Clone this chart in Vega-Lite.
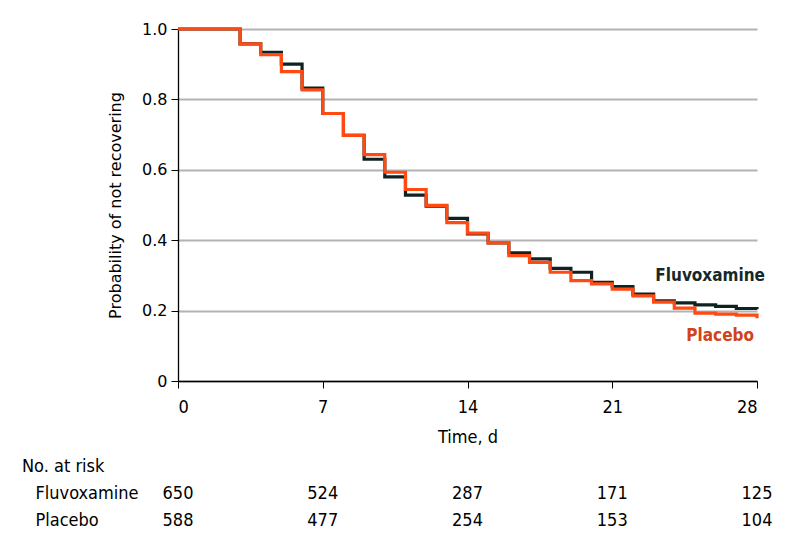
{
  "$schema": "https://vega.github.io/schema/vega-lite/v6.json",
  "padding": {"left": 22, "top": 21, "right": 5, "bottom": 5},
  "background": "white",
  "config": {
    "view": {"stroke": null},
    "font": "DejaVu Sans Condensed, Liberation Sans Narrow, DejaVu Sans, sans-serif",
    "axis": {"domainColor": "#000000", "tickColor": "#000000", "labelColor": "#000000", "titleColor": "#000000", "titleFontWeight": "normal"},
    "title": {"color": "#000000"}
  },
  "datasets": {
    "curves": [
      {"day": 0, "group": "Fluvoxamine", "p": 1.0},
      {"day": 3, "group": "Fluvoxamine", "p": 0.958},
      {"day": 4, "group": "Fluvoxamine", "p": 0.934},
      {"day": 5, "group": "Fluvoxamine", "p": 0.9},
      {"day": 6, "group": "Fluvoxamine", "p": 0.832},
      {"day": 7, "group": "Fluvoxamine", "p": 0.76},
      {"day": 8, "group": "Fluvoxamine", "p": 0.698},
      {"day": 9, "group": "Fluvoxamine", "p": 0.63},
      {"day": 10, "group": "Fluvoxamine", "p": 0.58},
      {"day": 11, "group": "Fluvoxamine", "p": 0.528},
      {"day": 12, "group": "Fluvoxamine", "p": 0.497},
      {"day": 13, "group": "Fluvoxamine", "p": 0.462},
      {"day": 14, "group": "Fluvoxamine", "p": 0.418},
      {"day": 15, "group": "Fluvoxamine", "p": 0.392},
      {"day": 16, "group": "Fluvoxamine", "p": 0.364},
      {"day": 17, "group": "Fluvoxamine", "p": 0.347},
      {"day": 18, "group": "Fluvoxamine", "p": 0.32},
      {"day": 19, "group": "Fluvoxamine", "p": 0.309},
      {"day": 20, "group": "Fluvoxamine", "p": 0.28},
      {"day": 21, "group": "Fluvoxamine", "p": 0.268},
      {"day": 22, "group": "Fluvoxamine", "p": 0.247},
      {"day": 23, "group": "Fluvoxamine", "p": 0.228},
      {"day": 24, "group": "Fluvoxamine", "p": 0.222},
      {"day": 25, "group": "Fluvoxamine", "p": 0.216},
      {"day": 26, "group": "Fluvoxamine", "p": 0.212},
      {"day": 27, "group": "Fluvoxamine", "p": 0.206},
      {"day": 28, "group": "Fluvoxamine", "p": 0.204},
      {"day": 0, "group": "Placebo", "p": 1.0},
      {"day": 3, "group": "Placebo", "p": 0.958},
      {"day": 4, "group": "Placebo", "p": 0.927},
      {"day": 5, "group": "Placebo", "p": 0.879},
      {"day": 6, "group": "Placebo", "p": 0.827},
      {"day": 7, "group": "Placebo", "p": 0.76},
      {"day": 8, "group": "Placebo", "p": 0.698},
      {"day": 9, "group": "Placebo", "p": 0.643},
      {"day": 10, "group": "Placebo", "p": 0.593},
      {"day": 11, "group": "Placebo", "p": 0.544},
      {"day": 12, "group": "Placebo", "p": 0.499},
      {"day": 13, "group": "Placebo", "p": 0.45},
      {"day": 14, "group": "Placebo", "p": 0.42},
      {"day": 15, "group": "Placebo", "p": 0.392},
      {"day": 16, "group": "Placebo", "p": 0.356},
      {"day": 17, "group": "Placebo", "p": 0.337},
      {"day": 18, "group": "Placebo", "p": 0.309},
      {"day": 19, "group": "Placebo", "p": 0.285},
      {"day": 20, "group": "Placebo", "p": 0.276},
      {"day": 21, "group": "Placebo", "p": 0.261},
      {"day": 22, "group": "Placebo", "p": 0.242},
      {"day": 23, "group": "Placebo", "p": 0.224},
      {"day": 24, "group": "Placebo", "p": 0.207},
      {"day": 25, "group": "Placebo", "p": 0.193},
      {"day": 26, "group": "Placebo", "p": 0.19},
      {"day": 27, "group": "Placebo", "p": 0.187},
      {"day": 28, "group": "Placebo", "p": 0.178}
    ],
    "risk": [
      {"day": 0, "group": "Fluvoxamine", "n": 650},
      {"day": 7, "group": "Fluvoxamine", "n": 524},
      {"day": 14, "group": "Fluvoxamine", "n": 287},
      {"day": 21, "group": "Fluvoxamine", "n": 171},
      {"day": 28, "group": "Fluvoxamine", "n": 125},
      {"day": 0, "group": "Placebo", "n": 588},
      {"day": 7, "group": "Placebo", "n": 477},
      {"day": 14, "group": "Placebo", "n": 254},
      {"day": 21, "group": "Placebo", "n": 153},
      {"day": 28, "group": "Placebo", "n": 104}
    ]
  },
  "vconcat": [
    {
      "width": 579,
      "height": 352,
      "data": {"name": "curves"},
      "encoding": {
        "x": {"field": "day", "type": "quantitative", "scale": {"domain": [0, 28], "nice": false, "zero": false},
          "axis": {"values": [0, 7, 14, 21, 28], "title": "Time, d", "grid": false, "tickSize": 7, "labelFontSize": 18, "titleFontSize": 18, "labelPadding": 10, "titlePadding": 12, "domainWidth": 1.3}},
        "y": {"field": "p", "type": "quantitative", "scale": {"domain": [0, 1], "nice": false},
          "axis": {"values": [0, 0.2, 0.4, 0.6, 0.8, 1.0], "labelExpr": "datum.value == 0 ? '0' : format(datum.value, '.1f')", "title": "Probability of not recovering", "grid": true, "gridColor": "#b3b3b3", "gridWidth": 2, "tickSize": 7, "labelFont": "DejaVu Sans", "labelFontSize": 16, "titleFont": "DejaVu Sans", "titleFontSize": 16, "labelPadding": 4, "titlePadding": 18, "domainWidth": 1.3}}
      },
      "layer": [
        {
          "transform": [{"filter": "datum.group == 'Fluvoxamine'"}],
          "mark": {"type": "line", "interpolate": "step-after", "color": "#0f2222", "strokeWidth": 3.2}
        },
        {
          "transform": [{"filter": "datum.group == 'Placebo'"}],
          "mark": {"type": "line", "interpolate": "step-after", "color": "#ff4a14", "strokeWidth": 3.2}
        },
        {
          "transform": [{"filter": "datum.group == 'Fluvoxamine' && datum.day == 28"}],
          "mark": {"type": "text", "align": "right", "baseline": "middle", "dx": 8, "dy": -33, "fontSize": 17, "fontWeight": "bold", "color": "#172828"},
          "encoding": {"text": {"field": "group"}}
        },
        {
          "transform": [{"filter": "datum.group == 'Placebo' && datum.day == 28"}],
          "mark": {"type": "text", "align": "right", "baseline": "middle", "dx": -3, "dy": 18, "fontSize": 17, "fontWeight": "bold", "color": "#d0441a"},
          "encoding": {"text": {"field": "group"}}
        }
      ]
    },
    {
      "width": 579,
      "height": 54,
      "data": {"name": "risk"},
      "title": {"text": "No. at risk", "anchor": "start", "frame": "bounds", "fontSize": 18, "fontWeight": "normal", "dx": -13, "offset": 4},
      "mark": {"type": "text", "fontSize": 18, "align": "center", "baseline": "middle", "color": "#000000"},
      "encoding": {
        "x": {"field": "day", "type": "quantitative", "scale": {"domain": [0, 28], "nice": false, "zero": false}, "axis": null},
        "y": {"field": "group", "type": "nominal", "sort": ["Fluvoxamine", "Placebo"],
          "axis": {"title": null, "domain": false, "ticks": false, "labelAlign": "left", "labelPadding": 143, "labelFontSize": 18}},
        "text": {"field": "n"}
      }
    }
  ],
  "spacing": 12
}
